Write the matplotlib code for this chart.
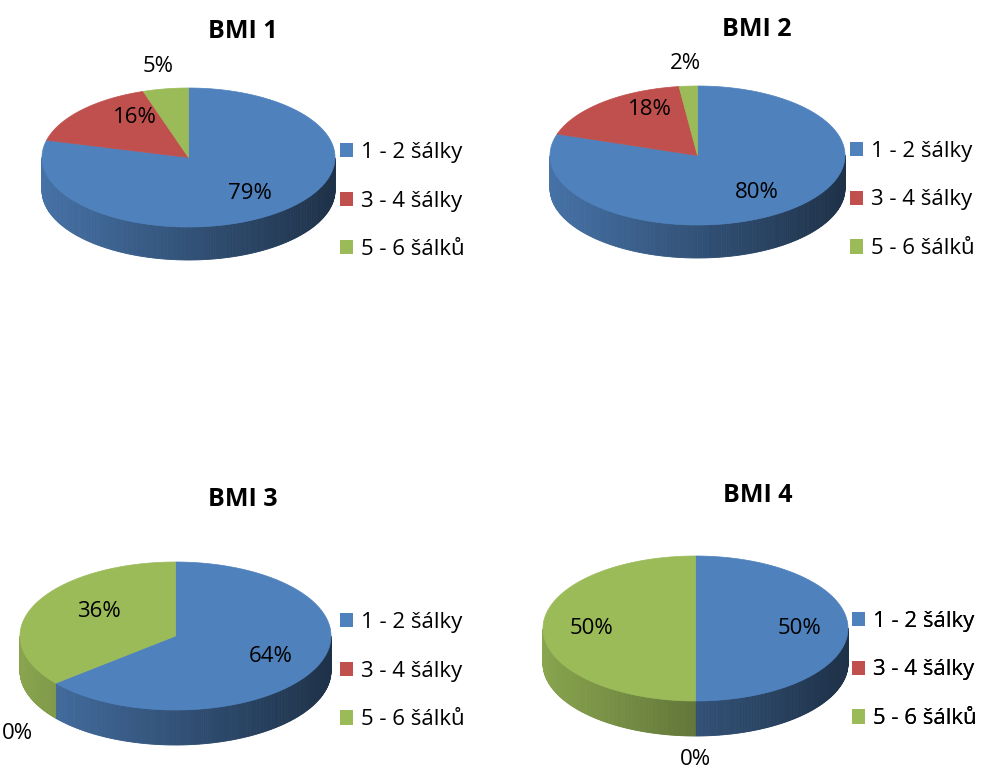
import numpy as np
import matplotlib
matplotlib.use("Agg")
import matplotlib.pyplot as plt
from matplotlib.patches import Polygon, Patch

plt.rcParams['font.family'] = ['Open Sans', 'DejaVu Sans']

# ===== data =====
titles = ["BMI 1", "BMI 2", "BMI 3", "BMI 4"]
categories = ["1 - 2 šálky", "3 - 4 šálky", "5 - 6 šálků"]
bmi1 = [79, 16, 5]
bmi2 = [80, 18, 2]
bmi3 = [64, 0, 36]
bmi4 = [50, 0, 50]
values = [bmi1, bmi2, bmi3, bmi4]

colors = ["#4F81BD", "#C0504D", "#9BBB59"]

# ===== layout (pixels) =====
W, H = 989, 772
# center x, center y of top face, semi axis a, semi axis b, depth
pies = [
    (188.5, 157.5, 146.5, 69.5, 33),
    (697.5, 155.5, 147.5, 69.5, 33),
    (175.5, 636.0, 155.5, 74.0, 35),
    (695.5, 628.5, 152.5, 72.5, 35),
]
title_pos = [(243, 31), (757, 29), (243, 499), (758, 495)]
legend_pos = [(340, 201), (850, 200), (340, 671), (852, 670)]

fig = plt.figure(figsize=(W / 100, H / 100), dpi=100)
ax = fig.add_axes([0, 0, 1, 1])
ax.set_xlim(0, W)
ax.set_ylim(H, 0)
ax.axis("off")


def shade(col, f):
    rgb = np.array(matplotlib.colors.to_rgb(col))
    return tuple(np.clip(rgb * f, 0, 1))


for k, vals in enumerate(values):
    cx, cy, a, b, d = pies[k]
    total = float(sum(vals))
    # angles clockwise from 12 o'clock, in fractions
    bounds = np.concatenate([[0], np.cumsum(vals) / total])

    # side walls (front half only), thin strips for the gradient
    for i, v in enumerate(vals):
        if v == 0:
            continue
        t0 = np.pi / 2 - 2 * np.pi * bounds[i]
        t1 = np.pi / 2 - 2 * np.pi * bounds[i + 1]
        ts = np.linspace(t0, t1, 300)
        for j in range(len(ts) - 1):
            tm = 0.5 * (ts[j] + ts[j + 1])
            if np.sin(tm) > 0.001:
                continue
            x0, x1 = cx + a * np.cos(ts[j]), cx + a * np.cos(ts[j + 1])
            y0, y1 = cy - b * np.sin(ts[j]), cy - b * np.sin(ts[j + 1])
            f = 0.63 - 0.25 * np.cos(tm)
            c = shade(colors[i], f)
            ax.add_patch(Polygon([(x0, y0), (x1, y1), (x1, y1 + d), (x0, y0 + d)],
                                 closed=True, facecolor=c, edgecolor=c,
                                 linewidth=0.6, zorder=1))

    # top face
    for i, v in enumerate(vals):
        if v == 0:
            continue
        t0 = np.pi / 2 - 2 * np.pi * bounds[i]
        t1 = np.pi / 2 - 2 * np.pi * bounds[i + 1]
        ts = np.linspace(t0, t1, 400)
        pts = [(cx, cy)] + [(cx + a * np.cos(t), cy - b * np.sin(t)) for t in ts]
        ax.add_patch(Polygon(pts, closed=True, facecolor=colors[i],
                             edgecolor=colors[i], linewidth=0.5, zorder=2))

    # data labels
    for i, v in enumerate(vals):
        tm = np.pi / 2 - 2 * np.pi * (bounds[i] + bounds[i + 1]) / 2
        s = np.sin(tm)
        if v / total < 0.10:
            rx = ry = 1.32
        else:
            # back half looks a bit compressed towards the middle
            rx = 0.68 - 0.35 * max(s, 0) * abs(np.cos(tm))
            ry = 0.66 + 0.25 * max(s, 0)
        lx = cx + rx * a * np.cos(tm)
        ly = cy - ry * b * s
        if v / total < 0.10 and s < 0:
            ly += d
        ax.text(lx, ly, f"{v}%", ha="center", va="center", fontsize=16,
                color="black", zorder=5)

    ax.text(title_pos[k][0], title_pos[k][1], titles[k], ha="center",
            va="center", fontsize=18, fontweight="bold", zorder=5)

    handles = [Patch(facecolor=colors[i], edgecolor="none") for i in range(3)]
    ax.legend(handles, categories, loc="center left",
              bbox_to_anchor=legend_pos[k], bbox_transform=ax.transData,
              frameon=False, fontsize=16, handlelength=0.6, handleheight=0.6,
              handletextpad=0.33, labelspacing=1.25, borderpad=0, borderaxespad=0)
    ax.add_artist(ax.get_legend())

fig.savefig("out.png", dpi=100)
